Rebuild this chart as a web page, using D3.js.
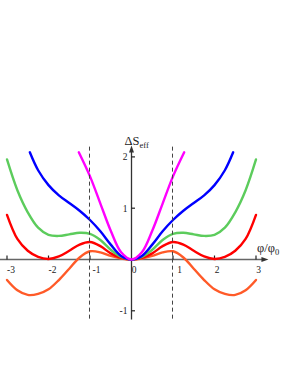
<!DOCTYPE html>
<html>
<head>
<meta charset="utf-8">
<script src="https://cdn.jsdelivr.net/npm/d3@7/dist/d3.min.js"></script>
<style>
  html, body { margin: 0; padding: 0; background: #fff; }
  svg { display: block; }
  text { font-family: "Liberation Serif", "Times New Roman", serif; }
</style>
</head>
<body>
<svg id="chart" width="291" height="376"></svg>
<script>
// ---- data ----
const xTicks = [-3, -2, -1, 0, 1, 2, 3];
const yTicks = [-1, 1, 2];
const dashedAt = [-1, 1];

const orangePhi = [-3, -2.75, -2.5, -2.25, -2, -1.75, -1.5, -1.25, -1, -0.75, -0.5, -0.25, 0, 0.25, 0.5, 0.75, 1, 1.25, 1.5, 1.75, 2, 2.25, 2.5, 2.75, 3];
const orangeS   = [-0.40, -0.60, -0.69, -0.67, -0.58, -0.40, -0.18, 0.04, 0.16, 0.14, 0.07, 0.02, 0, 0.02, 0.07, 0.14, 0.16, 0.04, -0.18, -0.40, -0.58, -0.67, -0.69, -0.60, -0.40];

const redPhi = [-3, -2.75, -2.5, -2.25, -2, -1.75, -1.5, -1.25, -1, -0.75, -0.5, -0.25, 0, 0.25, 0.5, 0.75, 1, 1.25, 1.5, 1.75, 2, 2.25, 2.5, 2.75, 3];
const redS   = [0.87, 0.40, 0.17, 0.05, 0.01, 0.06, 0.17, 0.29, 0.34, 0.26, 0.12, 0.03, 0, 0.03, 0.12, 0.26, 0.34, 0.29, 0.17, 0.06, 0.01, 0.05, 0.17, 0.40, 0.87];

const greenPhi = [-3, -2.75, -2.5, -2.25, -2, -1.75, -1.5, -1.25, -1, -0.75, -0.5, -0.25, 0, 0.25, 0.5, 0.75, 1, 1.25, 1.5, 1.75, 2, 2.25, 2.5, 2.75, 3];
const greenS   = [1.95, 1.35, 0.92, 0.62, 0.48, 0.46, 0.49, 0.52, 0.50, 0.38, 0.19, 0.05, 0, 0.05, 0.19, 0.38, 0.50, 0.52, 0.49, 0.46, 0.48, 0.62, 0.92, 1.35, 1.95];

const bluePhi = [-2.45, -2.25, -2, -1.75, -1.5, -1.25, -1, -0.75, -0.5, -0.25, 0, 0.25, 0.5, 0.75, 1, 1.25, 1.5, 1.75, 2, 2.25, 2.45];
const blueS   = [2.09, 1.74, 1.45, 1.25, 1.10, 0.95, 0.77, 0.55, 0.29, 0.07, 0, 0.07, 0.29, 0.55, 0.77, 0.95, 1.10, 1.25, 1.45, 1.74, 2.09];

const magentaPhi = [-1.27, -1, -0.75, -0.5, -0.25, 0, 0.25, 0.5, 0.75, 1, 1.27];
const magentaS   = [2.09, 1.62, 1.09, 0.56, 0.14, 0, 0.14, 0.56, 1.09, 1.62, 2.09];

const seriesNames  = ["orange", "red", "green", "blue", "magenta"];
const seriesColors = ["#ff5a28", "#ff0000", "#5ccc5c", "#0000ff", "#ff00ff"];
const seriesPhi = [orangePhi, redPhi, greenPhi, bluePhi, magentaPhi];
const seriesS   = [orangeS, redS, greenS, blueS, magentaS];

// ---- drawing ----
const svg = d3.select("#chart");
const x = d3.scaleLinear().domain([-3, 3]).range([7, 256]);
const y = d3.scaleLinear().domain([-1, 2]).range([310.8, 156.9]);

const x0 = x(0), y0 = y(0);

// axes
svg.append("line")
  .attr("x1", x(-3.17)).attr("x2", x(3.2))
  .attr("y1", y0).attr("y2", y0)
  .attr("stroke", "#666").attr("stroke-width", 1.3);
svg.append("path")
  .attr("d", `M${x(3.3)},${y0} L${x(3.3) - 7},${y0 - 2.5} L${x(3.3) - 7},${y0 + 2.5} Z`)
  .attr("fill", "#333");

svg.append("line")
  .attr("x1", x0).attr("x2", x0)
  .attr("y1", y(-1.17)).attr("y2", y(2.12))
  .attr("stroke", "#333").attr("stroke-width", 1.3);
svg.append("path")
  .attr("d", `M${x0},${y(2.22)} L${x0 - 2.5},${y(2.22) + 7} L${x0 + 2.5},${y(2.22) + 7} Z`)
  .attr("fill", "#333");

// x ticks (above axis)
svg.selectAll(".xt").data(xTicks.filter(d => d !== 0)).enter().append("line")
  .attr("x1", d => x(d)).attr("x2", d => x(d))
  .attr("y1", y0).attr("y2", y0 - 4)
  .attr("stroke", "#222").attr("stroke-width", 1.2);
svg.selectAll(".xl").data(xTicks).enter().append("text")
  .attr("x", d => x(d) + (Math.abs(d) === 1 ? 6.5 : (d < 0 ? 4 : 2.5)))
  .attr("y", y0 + 13)
  .attr("text-anchor", "middle")
  .attr("font-size", 9.5)
  .attr("fill", "#222")
  .text(d => d < 0 ? "-" + Math.abs(d) : String(d));

// y ticks (right of axis)
svg.selectAll(".yt").data(yTicks).enter().append("line")
  .attr("x1", x0).attr("x2", x0 + 3.5)
  .attr("y1", d => y(d)).attr("y2", d => y(d))
  .attr("stroke", "#222").attr("stroke-width", 1.2);
svg.selectAll(".yl").data(yTicks).enter().append("text")
  .attr("x", x0 - 4)
  .attr("y", d => y(d) + 3.5)
  .attr("text-anchor", "end")
  .attr("font-size", 9.5)
  .attr("fill", "#222")
  .text(d => d < 0 ? "-" + Math.abs(d) : String(d));

// curves
const line = d3.line()
  .x(d => x(d[0]))
  .y(d => y(d[1]))
  .curve(d3.curveCatmullRom.alpha(0.5));

seriesNames.forEach((name, i) => {
  const pts = seriesPhi[i].map((p, j) => [p, seriesS[i][j]]);
  svg.append("path")
    .attr("class", "curve-" + name)
    .attr("d", line(pts))
    .attr("fill", "none")
    .attr("stroke", seriesColors[i])
    .attr("stroke-width", 2.4)
    .attr("stroke-linecap", "round");
});

// dashed verticals
svg.selectAll(".dash").data(dashedAt).enter().append("line")
  .attr("x1", d => x(d) - 0.5).attr("x2", d => x(d) - 0.5)
  .attr("y1", y(2.2)).attr("y2", y(-1.17))
  .attr("stroke", "#444").attr("stroke-width", 1)
  .attr("stroke-dasharray", "4,3");

// axis titles
const ty = svg.append("text")
  .attr("x", x0 - 7).attr("y", 145)
  .attr("font-size", 12.5).attr("fill", "#222");
ty.append("tspan").text("ΔS");
ty.append("tspan").attr("font-size", 8.5).attr("dy", 3).text("eff");

const tx = svg.append("text")
  .attr("x", 257).attr("y", 252)
  .attr("font-size", 12.5).attr("fill", "#222");
tx.append("tspan").text("φ/φ");
tx.append("tspan").attr("font-size", 8.5).attr("dy", 3).text("0");
</script>
</body>
</html>
